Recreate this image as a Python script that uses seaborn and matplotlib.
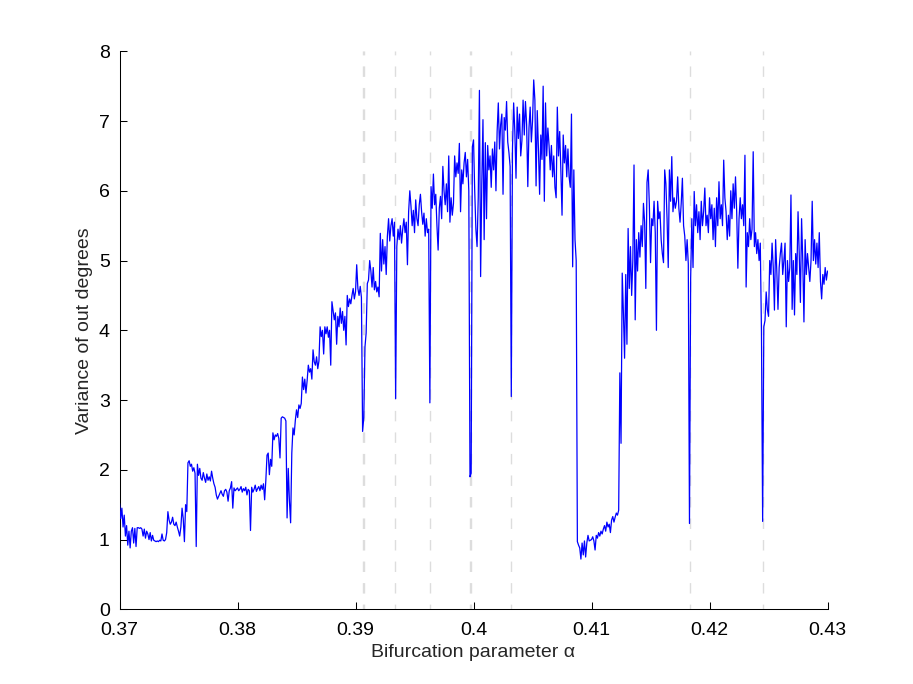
import numpy as np
import pandas as pd
import matplotlib
matplotlib.use("Agg")
import matplotlib.pyplot as plt
import seaborn as sns

# ---- data (sample step 0.0001 in alpha) ----
seg_370 = [1.52, 1.30, 1.45, 1.18, 1.35, 1.05, 1.20, 0.92, 1.12, 0.88,
           1.12, 1.17, 0.95, 1.16, 0.90, 1.17, 1.17, 1.16, 1.17, 1.15,
           1.05, 1.15, 1.02, 1.12, 1.08, 1.00, 1.10, 0.98, 1.06, 0.99,
           0.98, 0.97, 0.98, 0.97, 0.99, 0.98, 1.08, 0.99, 0.98, 1.00,
           1.10, 1.40, 1.28, 1.22, 1.25, 1.32, 1.22, 1.20, 1.25, 1.18]
seg_375 = [1.12, 1.05, 1.18, 1.45, 1.30, 0.97, 1.50, 1.40, 2.10, 2.13,
           2.05, 2.08, 1.98, 2.03, 1.95, 0.90, 2.08, 1.92, 2.02, 1.88,
           1.85, 1.96, 1.88, 1.82, 1.94, 1.85, 1.90, 1.84, 1.98, 1.88,
           1.80, 1.75, 1.64, 1.58, 1.62, 1.66, 1.70, 1.65, 1.62, 1.70,
           1.72, 1.68, 1.55, 1.70, 1.74, 1.83, 1.45, 1.74, 1.70, 1.72]
seg_380 = [1.74, 1.70, 1.72, 1.76, 1.68, 1.73, 1.70, 1.75, 1.64, 1.72,
           1.70, 1.13, 1.75, 1.68, 1.72, 1.78, 1.69, 1.73, 1.76, 1.70,
           1.78, 1.72, 1.80, 1.57, 1.85, 2.21, 2.24, 1.93, 2.15, 2.05,
           2.53, 2.43, 2.50, 2.48, 2.52, 2.45, 2.17, 2.74, 2.76, 2.75,
           2.74, 2.70, 1.31, 2.02, 1.55, 1.24, 2.24, 2.60, 2.50, 2.71]
seg_385 = [2.86, 2.75, 2.93, 2.88, 2.95, 3.33, 3.15, 3.30, 3.10, 3.28,
           3.50, 3.40, 3.45, 3.30, 3.72, 3.55, 3.50, 3.62, 3.45, 3.56,
           4.05, 3.91, 4.00, 3.66, 4.05, 3.95, 4.05, 3.90, 4.00, 3.50,
           4.41, 4.28, 4.15, 4.25, 3.80, 4.20, 4.05, 4.32, 4.10, 4.27,
           4.00, 4.20, 3.79, 4.50, 4.34, 4.45, 4.38, 4.50, 4.60, 4.45]
seg_390 = [4.55, 4.94, 4.60, 4.50, 4.63, 4.47, 2.55, 2.75, 3.76, 3.96,
           4.67, 4.72, 5.00, 4.85, 4.62, 4.90, 4.58, 4.70, 4.55, 4.62,
           4.48, 5.39, 4.85, 5.30, 4.95, 5.20, 4.80, 5.35, 5.60, 5.28,
           5.50, 5.60, 5.35, 5.55, 3.02, 5.20, 5.45, 5.30, 5.50, 5.25,
           5.45, 5.60, 5.40, 5.55, 4.94, 5.70, 6.00, 5.78, 5.50, 5.72]
seg_395 = [5.40, 5.87, 5.60, 5.50, 5.80, 5.95, 5.70, 5.52, 5.68, 5.35,
           5.60, 5.40, 5.45, 2.96, 6.06, 5.75, 6.24, 5.80, 5.95, 5.50,
           5.15, 5.75, 5.92, 5.60, 6.35, 6.00, 5.80, 6.10, 5.70, 6.50,
           5.55, 5.90, 5.65, 5.82, 6.50, 6.20, 6.40, 6.25, 6.68, 5.70,
           6.30, 6.10, 6.40, 6.55, 6.20, 6.45, 6.00, 1.90, 1.95, 6.63]
seg_400 = [6.73, 6.00, 5.45, 5.20, 5.90, 7.44, 4.77, 6.10, 7.02, 5.30,
           6.69, 5.60, 6.65, 6.30, 6.50, 6.05, 6.60, 6.30, 6.70, 6.00,
           6.85, 7.26, 6.60, 6.95, 7.10, 5.95, 7.05, 6.87, 7.28, 6.70,
           6.55, 6.35, 3.05, 6.60, 7.26, 6.85, 6.18, 7.20, 6.75, 7.10,
           6.50, 6.72, 7.30, 6.80, 7.28, 6.95, 6.06, 6.90, 7.20, 6.70]
seg_405 = [7.00, 7.59, 7.30, 6.07, 7.15, 6.60, 5.95, 6.80, 6.45, 7.50,
           5.85, 7.26, 6.50, 6.90, 6.65, 6.30, 6.65, 6.20, 6.50, 6.05,
           5.90, 7.20, 6.50, 6.85, 6.30, 5.65, 6.80, 6.40, 6.65, 6.20,
           6.60, 6.20, 6.05, 7.10, 4.91, 6.30, 5.30, 5.00, 0.97, 0.92,
           0.88, 0.72, 0.95, 0.78, 0.98, 0.75, 0.95, 1.06, 0.98, 0.99]
seg_410 = [1.00, 1.04, 0.98, 0.85, 1.06, 1.02, 1.10, 1.05, 1.12, 1.08,
           1.15, 1.20, 1.12, 1.25, 1.18, 1.22, 1.10, 1.28, 1.33, 1.25,
           1.32, 1.38, 1.35, 1.42, 3.39, 2.38, 4.82, 4.25, 3.60, 4.80,
           3.80, 5.46, 4.60, 5.20, 4.50, 5.00, 6.37, 4.15, 5.30, 4.85,
           5.40, 5.05, 5.50, 5.20, 5.82, 5.55, 4.60, 6.12, 6.30, 5.80]
seg_415 = [4.97, 5.60, 5.50, 5.85, 5.40, 4.00, 5.85, 5.60, 5.70, 5.30,
           5.10, 4.97, 6.30, 6.10, 5.60, 4.90, 6.30, 5.85, 6.49, 5.70,
           5.90, 5.75, 5.85, 6.20, 5.75, 5.55, 5.82, 6.18, 5.50, 5.35,
           5.00, 5.30, 4.95, 1.23, 4.75, 5.60, 4.90, 5.99, 5.50, 5.80,
           5.40, 5.70, 5.30, 5.85, 5.50, 5.70, 6.04, 5.50, 5.65, 5.40]
seg_420 = [5.90, 5.60, 5.80, 5.30, 5.75, 5.20, 5.90, 5.50, 6.13, 5.60,
           5.80, 5.50, 6.44, 5.90, 5.70, 5.30, 5.65, 5.35, 6.00, 5.60,
           6.10, 5.75, 6.20, 5.70, 4.89, 5.60, 5.90, 5.60, 5.80, 5.50,
           6.51, 4.62, 5.40, 5.20, 5.60, 5.30, 5.45, 6.56, 5.20, 5.40,
           5.10, 5.30, 5.00, 5.25, 3.98, 1.26, 4.05, 4.14, 4.55, 4.30]
seg_425 = [4.20, 5.00, 4.80, 5.25, 4.90, 4.29, 5.30, 4.85, 4.30, 4.90,
           5.10, 5.25, 4.80, 5.00, 5.25, 4.05, 5.00, 4.70, 4.90, 5.94,
           4.30, 5.00, 4.22, 5.10, 4.80, 5.70, 5.10, 4.40, 5.60, 5.00,
           4.12, 5.30, 4.80, 5.10, 4.90, 4.70, 5.00, 5.85, 5.00, 5.30,
           4.95, 5.25, 4.90, 5.40, 4.70, 4.45, 4.80, 4.66, 4.90, 4.72,
           4.85]

alpha_start = 0.37
alpha_step = 0.0001
bifurcation_points = [0.39060, 0.39070, 0.39337, 0.39631, 0.39970, 0.39980,
                      0.40318, 0.41832, 0.42453]
x_ticks = [0.37, 0.38, 0.39, 0.40, 0.41, 0.42, 0.43]
x_tick_labels = ["0.37", "0.38", "0.39", "0.4", "0.41", "0.42", "0.43"]
y_ticks = [0, 1, 2, 3, 4, 5, 6, 7, 8]

variance = np.array(seg_370 + seg_375 + seg_380 + seg_385 + seg_390 + seg_395 +
                    seg_400 + seg_405 + seg_410 + seg_415 + seg_420 + seg_425)
alpha = alpha_start + alpha_step * np.arange(len(variance))
df = pd.DataFrame({"alpha": alpha, "variance": variance})

# ---- style ----
sns.set_style("ticks")
plt.rcParams["font.family"] = ["Liberation Sans", "DejaVu Sans"]
plt.rcParams["xtick.direction"] = "in"
plt.rcParams["ytick.direction"] = "in"

fig = plt.figure(figsize=(9.13, 6.84), dpi=100)
ax = fig.add_axes([0.1309, 0.1092, 0.7755, 0.8158])

for xb in bifurcation_points:
    ax.axvline(xb, color="#dddddd", lw=1.0, ls=(4.0, (7.5, 8.0)), zorder=1)

sns.lineplot(data=df, x="alpha", y="variance", ax=ax, color=(0, 0, 1),
             lw=0.9, estimator=None, sort=False, zorder=3)

ax.set_xlim(0.37, 0.43)
ax.set_ylim(0, 8)
ax.set_xticks(x_ticks)
ax.set_xticklabels(x_tick_labels)
ax.set_yticks(y_ticks)
ax.tick_params(axis="both", which="major", direction="in", length=5,
               width=0.75, colors="black", labelsize=14)
ax.tick_params(axis="x", pad=9)
ax.tick_params(axis="y", pad=7)
ax.set_xlabel("Bifurcation parameter α", fontsize=14, labelpad=4)
ax.set_ylabel("Variance of out degrees", fontsize=14, labelpad=4)

for side in ["top", "right"]:
    ax.spines[side].set_visible(False)
for side in ["left", "bottom"]:
    ax.spines[side].set_color("black")
    ax.spines[side].set_linewidth(0.75)

fig.savefig("out.png", dpi=100)
